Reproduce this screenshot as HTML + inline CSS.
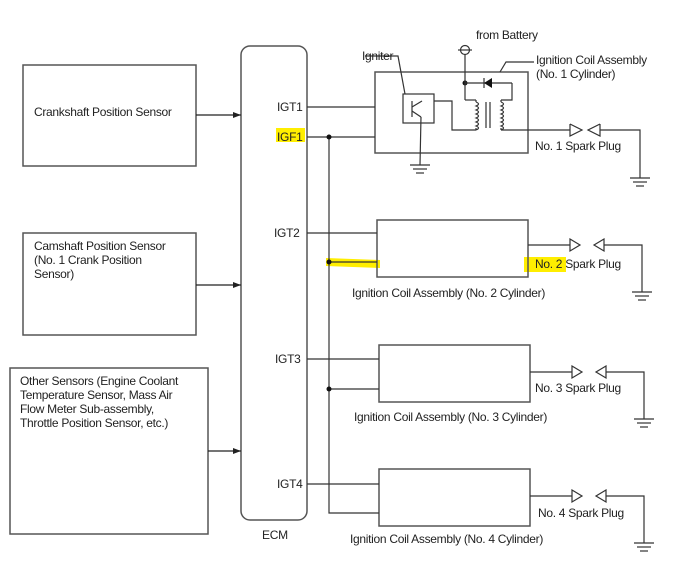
<!DOCTYPE html>
<html><head><meta charset="utf-8"><style>
body{margin:0;background:#fff;}
svg{display:block;font-family:"Liberation Sans",sans-serif;font-size:12px;fill:#222;}
text{fill:#222;letter-spacing:-0.3px}
</style></head><body>
<svg width="694" height="585" viewBox="0 0 694 585" xmlns="http://www.w3.org/2000/svg">
<defs>
<marker id="ar" markerWidth="8" markerHeight="6" refX="8" refY="3" orient="auto" markerUnits="userSpaceOnUse"><path d="M0,0 L8,3 L0,6 Z" fill="#222"/></marker>
</defs>
<g stroke="#555" stroke-width="1.5" fill="none">
<rect x="23" y="65" width="173" height="101"/>
<rect x="23" y="233" width="173" height="102"/>
<rect x="10" y="368" width="198" height="166"/>
<rect x="241" y="46" width="66" height="474" rx="9"/>
</g>
<g stroke="#222" stroke-width="1.2">
<line x1="196" y1="115" x2="241" y2="115" marker-end="url(#ar)"/>
<line x1="196" y1="285" x2="241" y2="285" marker-end="url(#ar)"/>
<line x1="208" y1="451" x2="241" y2="451" marker-end="url(#ar)"/>
</g>
<rect x="276" y="128" width="29" height="14" fill="#ffee00"/>
<rect x="524" y="257" width="42" height="15" fill="#ffee00"/>
<polygon points="326,258 380,260 380,268 326,266" fill="#ffee00"/>
<text x="34" y="116">Crankshaft Position Sensor</text>
<text x="34" y="250">Camshaft Position Sensor</text>
<text x="34" y="264">(No. 1 Crank Position</text>
<text x="34" y="278">Sensor)</text>
<text x="20" y="385">Other Sensors (Engine Coolant</text>
<text x="20" y="399">Temperature Sensor, Mass Air</text>
<text x="20" y="413">Flow Meter Sub-assembly,</text>
<text x="20" y="427">Throttle Position Sensor, etc.)</text>
<text x="262" y="539">ECM</text>
<text x="277" y="111">IGT1</text>
<text x="277" y="141">IGF1</text>
<text x="274" y="237">IGT2</text>
<text x="275" y="363">IGT3</text>
<text x="277" y="488">IGT4</text>
<g stroke="#555" stroke-width="1.5" fill="none">
<rect x="375" y="72" width="153" height="81"/>
<rect x="377" y="220" width="151" height="57"/>
<rect x="379" y="345" width="151" height="57"/>
<rect x="379" y="469" width="151" height="57"/>
</g>
<g stroke="#333" stroke-width="1.2" fill="none">
<line x1="307" y1="107" x2="375" y2="107"/>
<line x1="307" y1="137" x2="375" y2="137"/>
<line x1="307" y1="233" x2="377" y2="233"/>
<line x1="307" y1="359" x2="379" y2="359"/>
<line x1="307" y1="484" x2="379" y2="484"/>
<polyline points="329,137 329,513 379,513"/>
<line x1="329" y1="262" x2="377" y2="262"/>
<line x1="329" y1="389" x2="379" y2="389"/>
</g>
<g fill="#111"><circle cx="329" cy="137" r="2.5"/><circle cx="329" cy="262" r="2.5"/><circle cx="329" cy="389" r="2.5"/><circle cx="465" cy="83" r="2.5"/></g>
<!-- coil 1 internals -->
<g stroke="#333" stroke-width="1.2" fill="none">
<rect x="403" y="94" width="31" height="29"/>
<line x1="412" y1="101" x2="412" y2="117"/>
<polyline points="434,101 452,101 452,130 476,130"/>
<line x1="412" y1="107" x2="422" y2="101"/>
<line x1="412" y1="111" x2="421" y2="117"/>
<polyline points="421,117 420,165"/>
<line x1="410" y1="165" x2="430" y2="165"/><line x1="413" y1="169" x2="427" y2="169"/><line x1="416" y1="173" x2="424" y2="173"/>
<polyline points="365,56 398,56 405,94"/>
<circle cx="465" cy="50" r="4.5"/>
<line x1="458" y1="50" x2="472" y2="50"/>
<line x1="465" y1="54" x2="465" y2="100"/>
<polyline points="465,100 476,100"/>
<line x1="465" y1="83" x2="512" y2="83"/>
<polyline points="512,83 512,100 501,100"/>
<line x1="484" y1="78" x2="484" y2="88"/>
<path d="M476,102 q5,2 0,4 q5,2 0,4 q5,2 0,4 q5,2 0,4 q5,2 0,4 q5,2 0,4 q5,2 0,4"/>
<path d="M501,102 q5,2 0,4 q5,2 0,4 q5,2 0,4 q5,2 0,4 q5,2 0,4 q5,2 0,4 q5,2 0,4"/>
<line x1="476" y1="100" x2="476" y2="102"/><line x1="476" y1="130" x2="476" y2="128"/>
<line x1="501" y1="100" x2="501" y2="102"/><line x1="501" y1="130" x2="501" y2="128"/>
<line x1="486" y1="102" x2="486" y2="128"/><line x1="490" y1="102" x2="490" y2="128"/>
<polyline points="500,72 506,62 534,62"/>
<polyline points="501,130 570,130"/>
<polyline points="570,124 582,130 570,136 570,124"/>
<polyline points="600,124 588,130 600,136 600,124"/>
<polyline points="600,130 640,130 640,178"/>
<line x1="630" y1="178" x2="650" y2="178"/><line x1="633" y1="182" x2="647" y2="182"/><line x1="636" y1="186" x2="644" y2="186"/>
</g>
<polygon points="484,83 492,78 492,88" fill="#111"/>
<text x="362" y="60">Igniter</text>
<text x="476" y="39">from Battery</text>
<text x="536" y="64">Ignition Coil Assembly</text>
<text x="536" y="78">(No. 1 Cylinder)</text>
<text x="535" y="150">No. 1 Spark Plug</text>
<!-- plugs 2-4 -->
<g stroke="#333" stroke-width="1.2" fill="none">
<g id="p2">
<line x1="528" y1="245" x2="570" y2="245"/>
<polygon points="570,239 580,245 570,251"/>
<polygon points="604,239 594,245 604,251"/>
<polyline points="604,245 642,245 642,292"/>
<line x1="632" y1="292" x2="652" y2="292"/><line x1="635" y1="296" x2="649" y2="296"/><line x1="638" y1="300" x2="646" y2="300"/>
</g>
<use href="#p2" transform="translate(2,127)"/>
<use href="#p2" transform="translate(2,251)"/>
</g>
<text x="535" y="268">No. 2 Spark Plug</text>
<text x="535" y="392">No. 3 Spark Plug</text>
<text x="538" y="517">No. 4 Spark Plug</text>
<text x="352" y="297">Ignition Coil Assembly (No. 2 Cylinder)</text>
<text x="354" y="421">Ignition Coil Assembly (No. 3 Cylinder)</text>
<text x="350" y="543">Ignition Coil Assembly (No. 4 Cylinder)</text>
</svg>
</body></html>
